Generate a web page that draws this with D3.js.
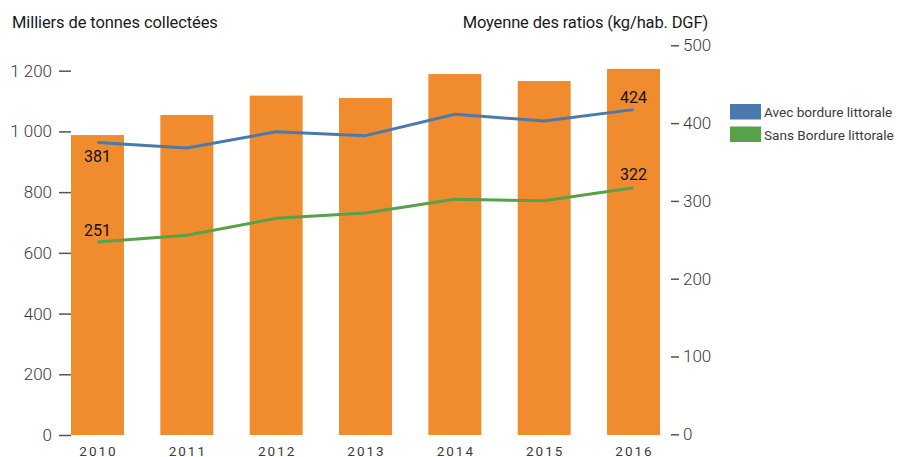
<!DOCTYPE html>
<html>
<head>
<meta charset="utf-8">
<script src="https://cdn.jsdelivr.net/npm/d3@7"></script>
<style>
  body { margin: 0; background: #fff; }
  svg text { font-family: "Roboto", "Noto Sans", sans-serif; }
  .tick line { stroke: #555; stroke-width: 1.5; }
  .tick text { fill: #3a3a3a; }
</style>
</head>
<body>
<div id="chart"></div>
<script>
// data
const years = ["2010", "2011", "2012", "2013", "2014", "2015", "2016"]
const tonnes = [988, 1054, 1118, 1110, 1189, 1166, 1206]        // milliers de tonnes
const avecBordure = [381, 374, 395, 390, 418, 409, 424]        // kg/hab. DGF
const sansBordure = [251, 260, 282, 289, 307, 305, 322]
const leftTicks = [0, 200, 400, 600, 800, 1000, 1200]
const rightTicks = [0, 100, 200, 300, 400, 500]
const seriesNames = ["Avec bordure littorale", "Sans Bordure littorale"]
const colors = {bar: "#F18C2E", avec: "#4A7AAB", sans: "#58A14B"}

const width = 901, height = 457

const svg = d3.select("#chart")
    .append("svg")
    .attr("width", width)
    .attr("height", height)

const x = d3.scaleBand()
    .domain(years)
    .range([71, 660])
    .paddingInner(0.407)
    .paddingOuter(0)

const yLeft = d3.scaleLinear().domain([0, 1200]).range([435, 70.7])
const yRight = d3.scaleLinear().domain([0, 500]).range([434.3, 45.3])
// the lines in the original sit slightly lower than the right axis graduations
const yLine = yRight.copy().domain([0, 508])

const fr = d3.formatLocale({decimal: ",", thousands: " ", grouping: [3], currency: ["", ""]})

//bars
svg.append("g")
    .selectAll("rect")
    .data(tonnes)
    .join("rect")
    .attr("x", (d, i) => x(years[i]))
    .attr("width", x.bandwidth())
    .attr("y", d => yLeft(d))
    .attr("height", d => yLeft(0) - yLeft(d))
    .attr("fill", colors.bar)

// left axis
const gLeft = svg.append("g")
    .attr("transform", "translate(71,0)")
    .call(d3.axisLeft(yLeft).tickValues(leftTicks).tickSize(12).tickPadding(7).tickFormat(fr.format(",")))
gLeft.select(".domain").remove()
gLeft.selectAll("text").style("font-size", "17px").style("font-weight", 300)

// right axis
const gRight = svg.append("g")
    .attr("transform", "translate(671,0)")
    .call(d3.axisRight(yRight).tickValues(rightTicks).tickSize(8).tickPadding(4))
gRight.select(".domain").remove()
gRight.selectAll("text").style("font-size", "17px").style("font-weight", 300)

// x labels
svg.append("g")
    .selectAll("text")
    .data(years)
    .join("text")
    .attr("x", d => x(d) + x.bandwidth() / 2 + 1)
    .attr("y", 455.5)
    .attr("text-anchor", "middle")
    .style("font-size", "13.5px")
    .style("letter-spacing", "2px")
    .attr("fill", "#3a3a3a")
    .text(d => d)

// lines
const line = d3.line()
    .x((d, i) => x(years[i]) + x.bandwidth() / 2)
    .y(d => yLine(d))

const lineData = [
    {key: "avec", values: avecBordure, color: colors.avec},
    {key: "sans", values: sansBordure, color: colors.sans},
]
svg.append("g")
    .selectAll("path")
    .data(lineData)
    .join("path")
    .attr("d", d => line(d.values))
    .attr("fill", "none")
    .attr("stroke", d => d.color)
    .attr("stroke-width", 3)
    .attr("stroke-linejoin", "round")

// value labels on first and last points
const last = years.length - 1
const valueLabels = [
    {i: 0, v: avecBordure[0], dy: 19.5},
    {i: 0, v: sansBordure[0], dy: -6.5},
    {i: last, v: avecBordure[last], dy: -7},
    {i: last, v: sansBordure[last], dy: -7.5},
]
svg.append("g")
    .selectAll("text")
    .data(valueLabels)
    .join("text")
    .attr("x", d => x(years[d.i]) + x.bandwidth() / 2)
    .attr("y", d => yLine(d.v) + d.dy)
    .attr("text-anchor", "middle")
    .style("font-size", "16px")
    .attr("fill", "#111")
    .text(d => d.v)

// axis titles
svg.append("text")
    .attr("x", 12).attr("y", 27.5)
    .style("font-size", "16.5px")
    .style("letter-spacing", "-0.1px")
    .attr("fill", "#1a1a1a")
    .text("Milliers de tonnes collectées")

svg.append("text")
    .attr("x", 708).attr("y", 27.5)
    .attr("text-anchor", "end")
    .style("font-size", "16.5px")
    .style("letter-spacing", "-0.15px")
    .attr("fill", "#1a1a1a")
    .text("Moyenne des ratios (kg/hab. DGF)")

// legend
const legend = svg.append("g")
    .attr("transform", "translate(730,104)")
    .selectAll("g")
    .data(lineData)
    .join("g")
    .attr("transform", (d, i) => `translate(0,${i * 22.5})`)

legend.append("rect")
    .attr("width", 31).attr("height", 15.5)
    .attr("fill", d => d.color)

legend.append("text")
    .attr("x", 34).attr("y", 13)
    .style("font-size", "13.6px")
    .attr("fill", "#3a3a3a")
    .text((d, i) => seriesNames[i])
</script>
</body>
</html>
